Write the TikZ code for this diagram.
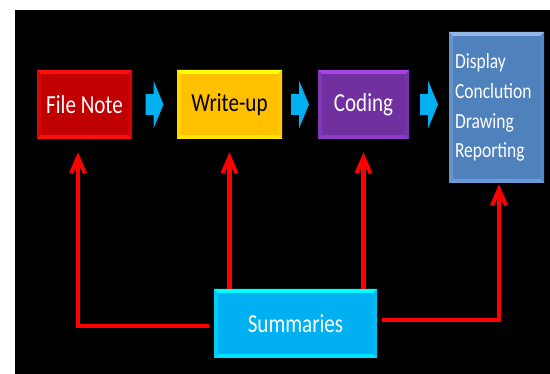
\documentclass[tikz,border=0pt]{standalone}
\usepackage{fontspec}
\setmainfont{Carlito}[FakeStretch=0.81]
\usetikzlibrary{arrows.meta,calc}

\definecolor{noteRed}{HTML}{C00000}
\definecolor{noteRedLt}{HTML}{FF1010}
\definecolor{writeGold}{HTML}{FFC000}
\definecolor{writeGoldLt}{HTML}{FFFF00}
\definecolor{writeGoldBt}{HTML}{FFE400}
\definecolor{codePurple}{HTML}{7030A0}
\definecolor{codePurpleLt}{HTML}{A445E6}
\definecolor{codePurpleBt}{HTML}{8A3CC6}
\definecolor{showBlue}{HTML}{4F81BD}
\definecolor{showBlueLt}{HTML}{93B8E6}
\definecolor{showBlueBt}{HTML}{6A9AD8}
\definecolor{sumCyan}{HTML}{00B0F0}
\definecolor{sumCyanLt}{HTML}{00FFFF}
\definecolor{sumCyanBt}{HTML}{00E0FF}
\definecolor{flowBlue}{HTML}{00B0F0}

% bevelled edges of a box: main colour, top colour, bottom colour
\newcommand{\bevel}[3]{%
  \coordinate (sw) at (path picture bounding box.south west);
  \coordinate (ne) at (path picture bounding box.north east);
  \fill[#1!65!#2] (sw) -- (sw |- ne) -- ($(sw |- ne)+(0.08,-0.08)$) -- ($(sw)+(0.08,0.08)$) -- cycle;
  \fill[#1!75!#3] (ne) -- (sw -| ne) -- ($(sw -| ne)+(-0.08,0.08)$) -- ($(ne)+(-0.08,-0.08)$) -- cycle;
  \fill[#2] (sw |- ne) -- (ne) -- ($(ne)+(-0.08,-0.08)$) -- ($(sw |- ne)+(0.08,-0.08)$) -- cycle;
  \fill[#3] (sw) -- (sw -| ne) -- ($(sw -| ne)+(-0.08,0.08)$) -- ($(sw)+(0.08,0.08)$) -- cycle;
}

\tikzset{
  box/.style n args={3}{fill=#1, minimum height=1.38cm, inner sep=0pt,
    font=\fontsize{14.8}{17}\selectfont, path picture={\bevel{#1}{#2}{#3}}},
  feed/.style={draw=red, line width=2.3pt, -{Straight Barb[length=0.32cm,width=0.28cm]}},
  chevron/.style={fill=flowBlue}
}

\begin{document}
\begin{tikzpicture}
	\useasboundingbox (0,0) rectangle (11,7.48);
	\fill[white] (0,0) rectangle (11,7.48);
	\fill[black] (0.3,0) rectangle (11,7.28);
	% Boxes
	\node[box={noteRed}{noteRedLt}{noteRedLt}, minimum width=1.9cm, text=white] (filenote) at (1.69,5.39) {File Note};
	\node[box={writeGold}{writeGoldLt}{writeGoldBt}, minimum width=2.1cm, text=black] (writeup) at (4.59,5.39) {Write-up};
	\node[box={codePurple}{codePurpleLt}{codePurpleBt}, minimum width=1.82cm, text=white] (coding) at (7.27,5.39) {Coding};
	\node[box={showBlue}{showBlueLt}{showBlueBt}, minimum width=1.9cm, minimum height=3.02cm, text width=1.66cm,
		align=left, text=white, font=\fontsize{12.3}{17}\selectfont] (display) at (9.93,5.33)
		{Display\\Conclution\\Drawing\\Reporting};
	\node[box={sumCyan}{sumCyanLt}{sumCyanBt}, minimum width=3.26cm, text=white] (summaries) at (5.91,1.01) {Summaries};
	
	% Flow chevrons
	\foreach \a/\b in {filenote/writeup,writeup/coding,coding/display}
		\fill[chevron] ($(\a.east)!0.5!(\b.west |- \a.east)$) ++(-0.18,0.21) -- ++(0.16,0) -- ++(0,0.27)
			-- ++(0.2,-0.48) -- ++(-0.2,-0.48) -- ++(0,0.27) -- ++(-0.16,0) -- cycle;
	
	% Feedback from summaries
	\draw[feed] ([xshift=-0.1cm,yshift=-0.05cm]summaries.west) -| ([xshift=-0.13cm,yshift=-0.26cm]filenote.south);
	\draw[feed] (summaries.north -| writeup.south) -- ([yshift=-0.26cm]writeup.south);
	\draw[feed] (summaries.north -| coding.south) -- ([yshift=-0.26cm]coding.south);
	\draw[feed] ([xshift=0.1cm,yshift=0.07cm]summaries.east) -| ([xshift=0.05cm,yshift=-0.02cm]display.south);
\end{tikzpicture}
\end{document}
